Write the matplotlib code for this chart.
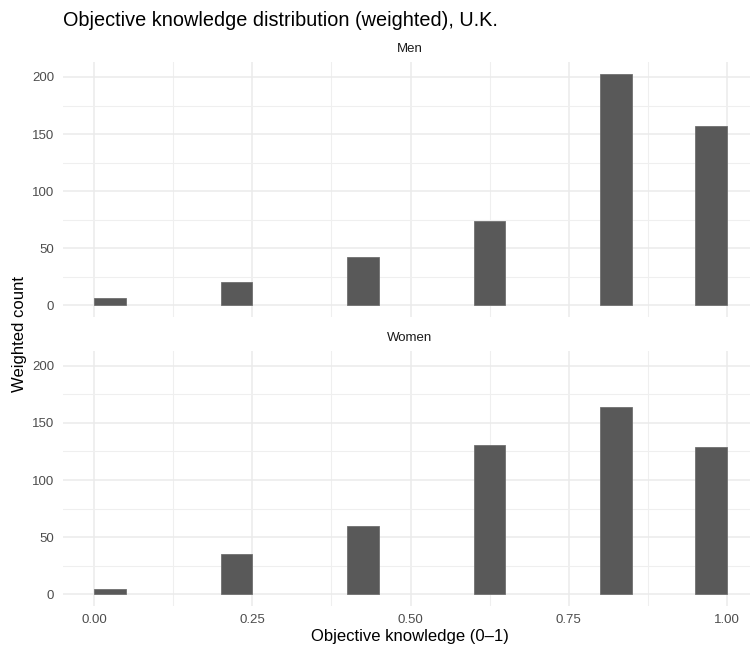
import numpy as np
import matplotlib
matplotlib.use('Agg')
import matplotlib.pyplot as plt

plt.rcParams['font.family'] = ['Liberation Sans', 'DejaVu Sans']

# knowledge scores and weighted counts per sex
knowledge = [0.0, 0.2, 0.4, 0.6, 0.8, 1.0]
menCounts = [6, 20, 42, 74, 203, 157]
womenCounts = [5, 35, 60, 131, 164, 129]
panelNames = ['Men', 'Women']
xTicks = [0.0, 0.25, 0.5, 0.75, 1.0]
xTickLabels = ['0.00', '0.25', '0.50', '0.75', '1.00']
yTicks = [0, 50, 100, 150, 200]

binEdges = np.arange(21) / 20  # 20 bins over 0..1

W, H = 750, 646
fig = plt.figure(figsize=(W / 100, H / 100), dpi=100)

# panel boxes in pixels: (left, top, right, bottom)
panels = [(62.7, 62.0, 750, 316.7), (62.7, 350.7, 750, 606.0)]
gridCol = '#EBEBEB'
ymax = max(max(menCounts), max(womenCounts))
ylo, yhi = -0.05 * ymax, 1.05 * ymax

for (l, t, r, b), name, counts in zip(panels, panelNames, [menCounts, womenCounts]):
    ax = fig.add_axes([l / W, 1 - b / H, (r - l) / W, (b - t) / H])
    n, edges, patches = ax.hist(knowledge, bins=binEdges, weights=counts, color='#595959',
                                edgecolor='#707070', linewidth=0.6, zorder=3)
    # empty bins should not leave an outline on the baseline
    for h, p in zip(n, patches):
        if h == 0:
            p.set_visible(False)
    ax.set_xlim(-0.05, -0.05 + (r - l) / 632.4)
    ax.set_ylim(ylo, yhi)
    ax.set_xticks(xTicks)
    ax.set_xticks([0.125, 0.375, 0.625, 0.875], minor=True)
    ax.set_yticks(yTicks)
    ax.set_yticks([25, 75, 125, 175], minor=True)
    ax.grid(True, which='major', color=gridCol, linewidth=1.1, zorder=0)
    ax.grid(True, which='minor', color='#EFEFEF', linewidth=0.8, zorder=0)
    ax.set_axisbelow(True)
    for s in ax.spines.values():
        s.set_visible(False)
    ax.tick_params(which='both', length=0)
    ax.tick_params(axis='y', labelsize=9.5, labelcolor='#4D4D4D', pad=6)
    if name == 'Women':
        ax.set_xticklabels(xTickLabels)
        ax.tick_params(axis='x', labelsize=9.5, labelcolor='#4D4D4D', pad=6)
    else:
        ax.set_xticklabels([])
    fig.text(410 / W, 1 - (t - 13) / H, name, ha='center', va='center',
             fontsize=9.5, color='#1A1A1A')

fig.text(63 / W, 1 - 20 / H, 'Objective knowledge distribution (weighted), U.K.',
         ha='left', va='center', fontsize=14.3, color='black')
fig.text(410 / W, 1 - 636 / H, 'Objective knowledge (0\u20131)', ha='center',
         va='center', fontsize=12, color='black')
fig.text(20 / W, 1 - 334 / H, 'Weighted count', ha='center', va='center',
         rotation=90, fontsize=12, color='black')

fig.savefig('out.png', dpi=100, facecolor='white')
